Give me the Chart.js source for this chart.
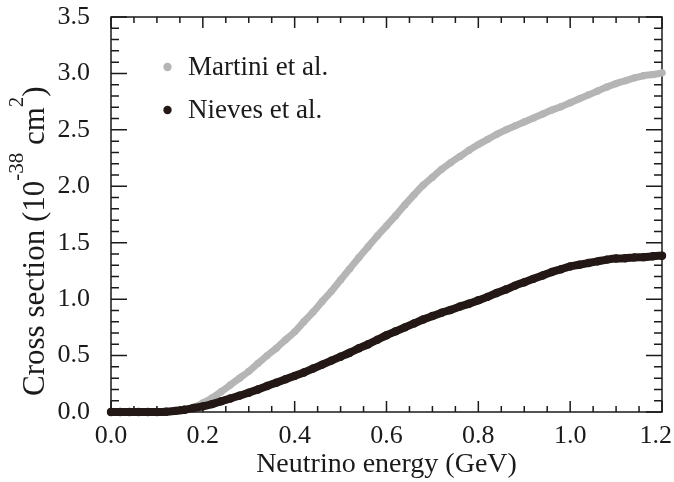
<!DOCTYPE html>
<html>
<head>
<meta charset="utf-8">
<script src="https://cdn.jsdelivr.net/npm/chart.js@4/dist/chart.umd.min.js"></script>
<style>
  html, body { margin: 0; padding: 0; background: #ffffff; }
  #wrap { width: 674px; height: 482px; }
</style>
</head>
<body>
<div id="wrap"><canvas id="chart" width="674" height="482"></canvas></div>
<script>
// Neutrino energy (GeV)
const energies = [
  0.00, 0.02, 0.04, 0.06, 0.08, 0.10, 0.12, 0.14, 0.16, 0.18,
  0.20, 0.22, 0.24, 0.26, 0.28, 0.30, 0.32, 0.34, 0.36, 0.38,
  0.40, 0.42, 0.44, 0.46, 0.48, 0.50, 0.52, 0.54, 0.56, 0.58,
  0.60, 0.62, 0.64, 0.66, 0.68, 0.70, 0.72, 0.74, 0.76, 0.78,
  0.80, 0.82, 0.84, 0.86, 0.88, 0.90, 0.92, 0.94, 0.96, 0.98,
  1.00, 1.02, 1.04, 1.06, 1.08, 1.10, 1.12, 1.14, 1.16, 1.18,
  1.20
];

// Cross section (1e-38 cm^2), Martini et al.
const martini = [
  0.000, 0.000, 0.000, 0.000, 0.000, 0.000, 0.001, 0.005, 0.015, 0.040,
  0.080, 0.125, 0.180, 0.240, 0.300, 0.360, 0.430, 0.500, 0.565, 0.640,
  0.710, 0.800, 0.885, 0.980, 1.070, 1.170, 1.270, 1.370, 1.465, 1.560,
  1.650, 1.740, 1.835, 1.925, 2.010, 2.080, 2.150, 2.210, 2.265, 2.320,
  2.370, 2.415, 2.460, 2.500, 2.535, 2.570, 2.605, 2.640, 2.675, 2.705,
  2.740, 2.775, 2.810, 2.845, 2.880, 2.910, 2.935, 2.960, 2.980, 2.990,
  3.005
];

// Cross section (1e-38 cm^2), Nieves et al.
const nieves = [
  0.000, 0.000, 0.000, 0.000, 0.000, 0.000, 0.002, 0.010, 0.020, 0.035,
  0.050, 0.070, 0.095, 0.120, 0.145, 0.170, 0.200, 0.230, 0.260, 0.290,
  0.320, 0.350, 0.385, 0.420, 0.455, 0.490, 0.525, 0.565, 0.600, 0.640,
  0.680, 0.715, 0.750, 0.785, 0.820, 0.850, 0.880, 0.905, 0.935, 0.960,
  0.990, 1.020, 1.055, 1.085, 1.120, 1.150, 1.180, 1.210, 1.240, 1.265,
  1.290, 1.305, 1.320, 1.335, 1.350, 1.360, 1.362, 1.370, 1.372, 1.380,
  1.385
];

const seriesNames = ['Martini et al.', 'Nieves et al.'];
const seriesColors = ['#b5b5b5', '#231815'];

const SERIF = '"Liberation Serif", "Times New Roman", serif';
const INK = '#1a1a1a';

function toPoints(ys) {
  return energies.map((x, i) => ({ x: x, y: ys[i] }));
}

// Box frame with inward major/minor ticks on all four sides, plus axis texts
const framePlugin = {
  id: 'frame',
  beforeDatasetsDraw(chart) {
    const { ctx, chartArea: a, scales: { x, y } } = chart;
    ctx.save();
    ctx.strokeStyle = INK;
    ctx.lineWidth = 1.5;
    ctx.strokeRect(a.left, a.top, a.right - a.left, a.bottom - a.top);
    ctx.beginPath();
    for (let i = 0; i <= 24; i++) {
      const px = x.getPixelForValue(i * 0.05);
      const len = i % 4 === 0 ? 11 : 6;
      ctx.moveTo(px, a.bottom); ctx.lineTo(px, a.bottom - len);
      ctx.moveTo(px, a.top); ctx.lineTo(px, a.top + len);
    }
    for (let j = 0; j <= 35; j++) {
      const py = y.getPixelForValue(j * 0.1);
      const len = j % 5 === 0 ? 16 : 8;
      ctx.moveTo(a.left, py); ctx.lineTo(a.left + len, py);
      ctx.moveTo(a.right, py); ctx.lineTo(a.right - len, py);
    }
    ctx.stroke();

    // x tick labels, kept inside the canvas at the right edge
    ctx.fillStyle = INK;
    ctx.font = '26px ' + SERIF;
    ctx.textAlign = 'left';
    ctx.textBaseline = 'alphabetic';
    x.ticks.forEach(t => {
      const label = Number(t.value).toFixed(1);
      const w = ctx.measureText(label).width;
      let left = x.getPixelForValue(t.value) - w / 2;
      left = Math.min(left, chart.width - 2 - w);
      ctx.fillText(label, left, 443);
    });
    ctx.restore();
  },
  afterDraw(chart) {
    const { ctx, chartArea: a } = chart;
    ctx.save();
    ctx.fillStyle = INK;
    ctx.textBaseline = 'alphabetic';

    // x-axis title
    ctx.font = '28px ' + SERIF;
    ctx.textAlign = 'center';
    ctx.fillText('Neutrino energy (GeV)', (a.left + a.right) / 2, 472);

    // y-axis title with superscripts, reading upward from the bottom
    const mainFont = '31px ' + SERIF;
    const supFont = '21px ' + SERIF;
    const parts = [
      { t: 'Cross section (10', sup: false },
      { t: '-38', sup: true },
      { t: ' cm', sup: false },
      { t: '2', sup: true },
      { t: ')', sup: false }
    ];
    ctx.translate(43.5, 396);
    ctx.rotate(-Math.PI / 2);
    ctx.textAlign = 'left';
    let cx = 0;
    parts.forEach(p => {
      ctx.font = p.sup ? supFont : mainFont;
      ctx.fillText(p.t, cx, p.sup ? -21 : 0);
      cx += ctx.measureText(p.t).width;
    });
    ctx.restore();

    // legend
    ctx.save();
    ctx.font = '27px ' + SERIF;
    ctx.textAlign = 'left';
    ctx.textBaseline = 'alphabetic';
    const rows = [{ cy: 67, base: 75 }, { cy: 110, base: 118 }];
    rows.forEach((r, i) => {
      ctx.fillStyle = seriesColors[i];
      ctx.beginPath();
      ctx.arc(167.5, r.cy, 4.2, 0, Math.PI * 2);
      ctx.fill();
      ctx.fillStyle = INK;
      ctx.fillText(seriesNames[i], 188, r.base);
    });
    ctx.restore();
  }
};

new Chart(document.getElementById('chart'), {
  type: 'scatter',
  data: {
    datasets: [
      {
        label: seriesNames[0],
        data: toPoints(martini),
        showLine: true,
        borderColor: seriesColors[0],
        backgroundColor: seriesColors[0],
        borderWidth: 7,
        pointRadius: 3.6,
        pointBorderWidth: 0,
        cubicInterpolationMode: 'monotone',
        borderCapStyle: 'round',
        borderJoinStyle: 'round',
        clip: false,
        order: 1
      },
      {
        label: seriesNames[1],
        data: toPoints(nieves),
        showLine: true,
        borderColor: seriesColors[1],
        backgroundColor: seriesColors[1],
        borderWidth: 8,
        pointRadius: 4.2,
        pointBorderWidth: 0,
        cubicInterpolationMode: 'monotone',
        borderCapStyle: 'round',
        borderJoinStyle: 'round',
        clip: false,
        order: 0
      }
    ]
  },
  options: {
    responsive: false,
    animation: false,
    events: [],
    layout: { padding: { left: 0, right: 12, top: 17, bottom: 0 } },
    plugins: {
      legend: { display: false },
      tooltip: { enabled: false }
    },
    scales: {
      x: {
        type: 'linear',
        min: 0,
        max: 1.2,
        grid: { display: false },
        border: { display: false },
        ticks: {
          stepSize: 0.2,
          autoSkip: false,
          maxRotation: 0,
          display: false
        },
        afterFit(s) { s.height = 70; s.paddingLeft = 0; s.paddingRight = 0; }
      },
      y: {
        type: 'linear',
        min: 0,
        max: 3.5,
        grid: { display: false },
        border: { display: false },
        ticks: {
          stepSize: 0.5,
          padding: 13,
          color: INK,
          font: { family: SERIF, size: 26 },
          callback: v => Number(v).toFixed(1)
        },
        afterFit(s) { s.width = 111; s.paddingTop = 0; s.paddingBottom = 0; }
      }
    }
  },
  plugins: [framePlugin]
});
</script>
</body>
</html>
